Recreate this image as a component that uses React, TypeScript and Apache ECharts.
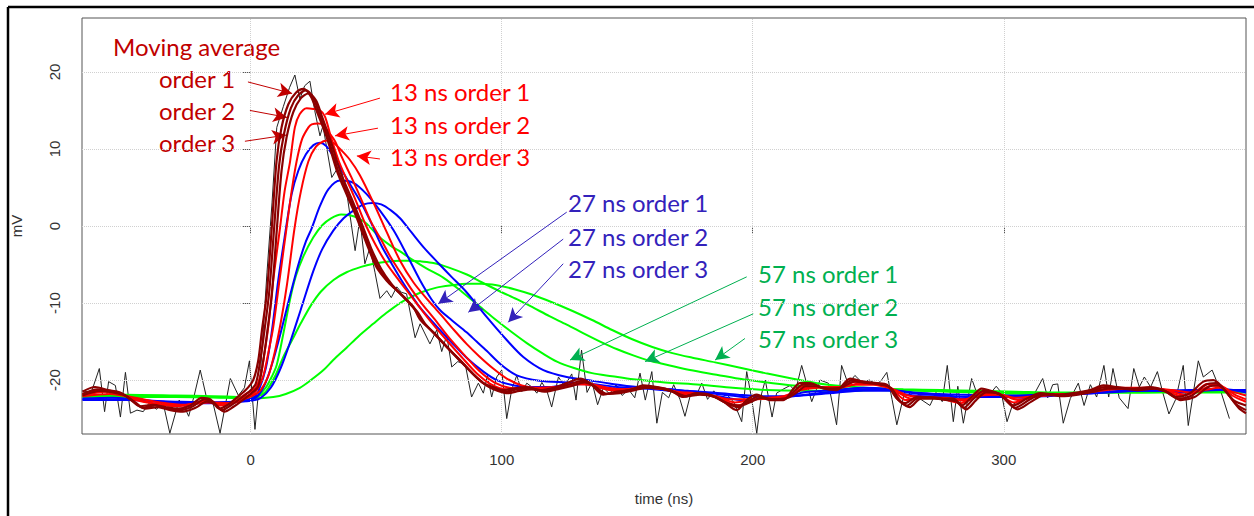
import React, { useEffect, useRef } from 'react';
import * as echarts from 'echarts';

// Axis ticks
const xTicks = [0, 100, 200, 300];
const yTicks = [-20, -10, 0, 10, 20];

// Raw detector signal (time ns, mV)
const rawTrace: [number, number][] = [
  [-67, -21.4], [-63.5, -21.6], [-60.3, -18.5], [-58.2, -24.1], [-56.6, -20.2], [-53.9, -20.7], [-51.9, -24.8], [-49.9, -19.0],
  [-47.9, -24.3], [-45.3, -23.9], [-42.8, -24.1], [-40.5, -23.0], [-37.5, -23.8], [-35, -22.8], [-32.2, -26.9], [-28.5, -22.6],
  [-26.5, -23.4], [-24.7, -24.7], [-22.5, -22.0], [-20.1, -18.7], [-17.5, -22.4], [-15, -23.0], [-12.2, -26.9], [-8.1, -19.8],
  [-4.9, -22.0], [-2.5, -21.0], [-0.5, -17.5], [1.7, -26.4], [4, -18.5], [6.5, -6], [8.5, 3], [10.4, 12.8], [13, 15.5],
  [15.5, 18], [17.6, 19.6], [19.6, 16.5], [21.5, 18.2], [23.6, 18.8], [25.5, 15], [27.6, 11.7], [28.8, 13.0], [32.3, 6.3],
  [35.6, 8.0], [38.5, 3.8], [41.6, -3.2], [43.5, 0.9], [45.5, -4.9], [47.5, -2.8], [49.5, -6.0], [51.5, -9.4], [54.2, -8.4],
  [56, -9.3], [58.2, -7.9], [60, -8.6], [62.1, -8.8], [65.5, -14.5], [67.5, -12.7], [71.4, -15.3], [74.1, -13.5], [76.1, -16.3],
  [78.1, -14.2], [80.1, -18.3], [82.5, -17.6], [85.5, -18.0], [88, -22.2], [90.7, -20.4], [92.7, -21.7], [94.3, -19.4],
  [96, -22.2], [98, -19.6], [100, -18.7], [102, -25.0], [104, -21.2], [106, -19.4], [108, -21.5], [110, -20.4], [112, -20.9],
  [114, -21.7], [116, -20.3], [118, -21.4], [119.9, -23.5], [122.6, -19.6], [125, -20.8], [127.9, -19.2], [129.6, -22.6],
  [131.8, -16.1], [134, -21.6], [136, -20.3], [138.2, -23.2], [140.5, -21.0], [143, -21.8], [145.5, -20.6], [148, -22.0],
  [150.5, -21.2], [153, -22.3], [155.1, -19.1], [157.2, -22.6], [159.8, -18.9], [161.8, -25.6], [164, -21.6], [166.5, -22.3],
  [168.5, -20.6], [171, -22.5], [173, -24.7], [175.5, -21.5], [177.5, -22.0], [179.7, -20.4], [182, -22.5], [184.5, -21.4],
  [187, -22.6], [189.5, -21.8], [192.5, -22.9], [195.6, -25.4], [197.6, -18.9], [199.5, -22.3], [201.6, -26.9], [203.5, -21.8],
  [205, -20.0], [207.7, -24.8], [209.5, -21.7], [212, -21.2], [214.9, -20.7], [217, -21.5], [219.5, -18.1], [223.5, -22.8],
  [226.8, -20.0], [230.1, -20.4], [233.4, -25.8], [235.4, -18.1], [238, -20.5], [240.7, -19.4], [243.5, -20.3], [246.5, -20.0],
  [249.5, -20.6], [251.5, -19.9], [253.4, -19.0], [255.5, -22.5], [257.4, -25.8], [260.7, -21.3], [263.5, -22.0], [266.5, -22.4],
  [270.6, -23.3], [273, -21.6], [275.5, -22.8], [277.5, -18.1], [279.9, -25.4], [281.7, -20.8], [283.9, -25.6], [287.2, -19.8],
  [289.5, -21.9], [292, -21.2], [294.5, -21.8], [297, -20.8], [299, -21.6], [301.3, -25.4], [303.5, -23.2], [306, -22.7],
  [309, -22.2], [312, -21.9], [315.5, -19.8], [317.5, -22.3], [319.5, -20.6], [321.5, -20.5], [323.7, -25.6], [326.5, -22.4],
  [329.7, -20.4], [332, -23.3], [334.5, -20.6], [337, -22.2], [339.9, -18.1], [341.8, -22.2], [343.5, -18.5], [346, -22.3],
  [349.5, -23.7], [351.8, -18.5], [354, -20.9], [356, -19.6], [358.5, -20.9], [361.2, -18.9], [363.5, -21.8], [365.8, -24.4],
  [368.5, -22.5], [371.5, -18.1], [373.5, -25.9], [377.5, -17.5], [379.5, -19.6], [383, -18.7], [386.5, -21.5], [389.9, -25.0],
];

// Moving averages, orders 1-3
const movingAvg1: [number, number][] = [
  [-67, -21.5], [-62, -20.9], [-57, -21.3], [-52, -21.6], [-48, -22.5], [-44, -23.4], [-39, -23.2], [-34, -23.5], [-29, -23.7],
  [-24, -23.3], [-19.5, -22.3], [-16, -22.5], [-12.5, -23.7], [-9, -23.2], [-6, -22.4], [-2, -21.3], [1, -20.0], [3, -17.5],
  [4.5, -13.5], [6.4, -8.8], [8.4, -0.2], [10.3, 8.4], [12.3, 12.8], [15, 15.8], [18, 17.3], [21, 17.8], [24, 16.8], [26.3, 14.9],
  [30.3, 11.5], [34.3, 7.2], [38.2, 4.1], [42.2, 1.1], [46.2, -2.3], [50.2, -5.4], [54.2, -7.1], [58, -8.3], [61, -9.2],
  [64.8, -10.5], [67.4, -12.1], [72.8, -13.8], [78.1, -15.7], [83.4, -17.4], [88.6, -19.2], [92.7, -20.4], [96.6, -20.9],
  [100.6, -21.3], [104.6, -21.1], [109.9, -20.9], [115.2, -21.3], [120.6, -21.0], [125.9, -20.4], [131.2, -19.8], [135.2, -20.4],
  [140.5, -21.9], [145.8, -21.5], [151.1, -21.3], [156.4, -20.7], [161.8, -20.9], [167.1, -21.3], [172.4, -22.2], [177.7, -21.7],
  [183, -21.9], [188.3, -22.8], [193.6, -23.9], [197.6, -22.6], [201.6, -21.9], [206.9, -22.6], [212.2, -22.6], [216, -21.2],
  [218.8, -20.4], [222.8, -20.4], [228.2, -21.1], [233.4, -21.3], [238.8, -19.8], [244.1, -20.2], [249.4, -20.4], [253.4, -20.6],
  [257.4, -22.4], [260.7, -23.0], [265.3, -22.2], [270.6, -22.2], [275.9, -22.4], [279.9, -22.4], [283.2, -23.3], [287.2, -22.2],
  [291.2, -21.1], [295.8, -21.5], [298.5, -21.9], [303.8, -23.3], [309.2, -22.4], [314.5, -21.7], [321.1, -21.9], [327.7, -21.7],
  [334.4, -21.3], [339.7, -20.7], [345, -20.9], [351.6, -21.1], [358.3, -20.9], [363.6, -21.3], [368.9, -22.2], [374.2, -21.7],
  [379.5, -20.2], [383.5, -20.0], [387.5, -21.1], [391.5, -22.6], [396.5, -23.3],
];
const movingAvg2: [number, number][] = [
  [-67, -21.8], [-61, -21.2], [-56, -21.4], [-51, -21.8], [-47, -22.7], [-43, -23.6], [-38, -23.3], [-33, -23.7], [-28, -23.9],
  [-23, -23.4], [-18.5, -22.5], [-15, -22.8], [-11.5, -23.9], [-8, -23.3], [-5, -22.6], [-1, -21.6], [2, -20.5], [4, -17],
  [5.5, -13.5], [7.4, -8.5], [9.4, 0], [11.3, 7.8], [13.3, 12], [16, 15.3], [19, 17], [22, 17.6], [25, 16.6], [27.3, 14.6],
  [31, 11.2], [35, 7.0], [39, 3.9], [43, 0.8], [47, -2.6], [51, -5.5], [55, -7.3], [59, -8.6], [62, -9.6], [65.5, -10.9],
  [68.5, -12.4], [73.5, -14.1], [79, -16], [84, -17.7], [89.5, -19.5], [93.5, -20.6], [97.5, -21.2], [101.5, -21.5], [106, -21.2],
  [111, -21.0], [116, -21.4], [121, -21.1], [126.5, -20.6], [132, -20.1], [136, -20.6], [141, -21.8], [146, -21.6], [152, -21.2],
  [157, -20.9], [162.5, -21.0], [168, -21.5], [173, -22.1], [178, -21.8], [184, -22.1], [189, -22.9], [194, -23.5], [198.5, -22.7],
  [202.5, -22.1], [207.5, -22.5], [213, -22.4], [217, -21.3], [220, -20.6], [224, -20.6], [229, -21.1], [234, -21.1], [239.5, -20.0],
  [245, -20.3], [250, -20.5], [254, -20.8], [258, -22.6], [261.5, -23.3], [266, -22.3], [271.5, -22.3], [276.5, -22.5],
  [280.5, -22.6], [284, -23.6], [288, -22.4], [292, -21.4], [296.5, -21.6], [299.5, -22.1], [304.5, -23.6], [310, -22.6],
  [315.5, -21.8], [322, -22.0], [328.5, -21.8], [335, -21.4], [340.5, -20.9], [346, -21.0], [352.5, -21.2], [359, -21.0],
  [364.5, -21.5], [369.5, -22.4], [375, -22.0], [380.5, -20.6], [384.5, -20.4], [388.5, -21.5], [392.5, -23.1], [396.5, -23.9],
];
const movingAvg3: [number, number][] = [
  [-67, -22.0], [-60, -21.4], [-55, -21.6], [-50, -22.0], [-46, -22.9], [-42, -23.7], [-37, -23.5], [-32, -23.9], [-27, -24.1],
  [-22, -23.6], [-17.5, -22.8], [-14, -23.2], [-10.5, -24.1], [-7, -23.5], [-4, -22.8], [0, -21.8], [3, -20.8], [5, -17.5],
  [6.5, -14], [8.4, -9], [10.4, -0.5], [12.3, 7.2], [14.3, 11.5], [17, 14.8], [20, 16.6], [23, 17.2], [26, 16.3], [28.3, 14.3],
  [32, 10.9], [36, 6.8], [40, 3.7], [44, 0.5], [48, -2.9], [52, -5.6], [56, -7.5], [60, -8.9], [63, -9.9], [66.5, -11.2],
  [69.5, -12.7], [74.5, -14.4], [80, -16.3], [85, -18], [90.5, -19.8], [94.5, -20.8], [98.5, -21.4], [102.5, -21.7], [107, -21.4],
  [112, -21.2], [117, -21.5], [122, -21.2], [127.5, -20.8], [133, -20.3], [137, -20.8], [142, -21.8], [147, -21.7], [153, -21.3],
  [158, -21.0], [163.5, -21.1], [169, -21.6], [174, -22.1], [179, -21.9], [185, -22.2], [190, -23.0], [195, -23.3], [199.5, -22.8],
  [203.5, -22.3], [208.5, -22.5], [214, -22.3], [218, -21.5], [221, -20.8], [225, -20.8], [230, -21.1], [235, -21.0], [240.5, -20.2],
  [246, -20.4], [251, -20.6], [255, -21.0], [259, -22.8], [262.5, -23.5], [267, -22.4], [272.5, -22.4], [277.5, -22.6],
  [281.5, -22.8], [285, -23.8], [289, -22.6], [293, -21.6], [297.5, -21.7], [300.5, -22.3], [305.5, -23.8], [311, -22.8],
  [316.5, -21.9], [323, -22.1], [329.5, -21.9], [336, -21.5], [341.5, -21.1], [347, -21.1], [353.5, -21.3], [360, -21.1],
  [365.5, -21.6], [370.5, -22.6], [376, -22.2], [381.5, -20.9], [385.5, -20.7], [389.5, -21.9], [393.5, -23.6], [396.5, -24.3],
];

// 13 ns shaping, orders 1-3
const shaping13o1: [number, number][] = [
  [-67, -21.8], [-60, -21.3], [-53, -21.7], [-46, -22.6], [-38, -23.1], [-30, -23.4], [-22, -23.0], [-17, -22.6], [-12, -23.3],
  [-6, -22.7], [-2, -21.8], [0, -21.5], [2, -21], [4, -19.3], [5.5, -16.5], [7, -13.1], [9, -7], [11.7, -0.2], [13.5, 4.5],
  [15.7, 8.4], [17.6, 12.8], [19.5, 14.5], [22.3, 15.3], [25, 15.2], [27.6, 15.0], [29.6, 14.2], [32, 11.5], [35, 8.5],
  [38, 6.2], [42, 3.2], [46, 0.0], [50, -2.6], [54, -4.8], [58, -6.6], [62, -8.3], [66, -10.0], [72, -12.5], [78, -14.8],
  [84, -17.0], [90, -19.1], [96, -20.6], [102, -21.2], [108, -21.0], [115, -21.2], [121, -21.0], [127, -20.6], [133, -20.2],
  [139, -21.0], [146, -21.4], [153, -21.1], [159, -20.9], [166, -21.2], [173, -21.9], [180, -21.8], [187, -22.4], [194, -23.3],
  [200, -22.5], [207, -22.4], [214, -22.2], [220, -20.8], [228, -20.9], [235, -21.0], [241, -20.2], [248, -20.4], [255, -21.0],
  [261, -22.6], [268, -22.3], [275, -22.4], [283, -23.0], [290, -21.6], [297, -21.7], [304, -22.9], [311, -22.2], [318, -21.8],
  [326, -21.8], [334, -21.4], [341, -20.9], [349, -21.0], [357, -21.0], [364, -21.3], [370, -22.0], [376, -21.6], [381, -20.5],
  [386, -20.6], [391, -22.0], [396.5, -22.8],
];
const shaping13o2: [number, number][] = [
  [-67, -22.0], [-58, -21.5], [-50, -22.0], [-42, -22.8], [-34, -23.2], [-26, -23.3], [-18, -22.8], [-12, -23.1], [-6, -22.9],
  [-1, -22.0], [1, -21.8], [3, -21], [5, -19.5], [7, -16.5], [9, -13.1], [11.5, -7], [14.3, -0.2], [16.3, 4.5], [18.3, 8.4],
  [20.5, 11.3], [23, 12.8], [24.3, 13.2], [27, 13.3], [28.9, 13.1], [31, 12.2], [33.6, 11.0], [36.5, 8.8], [40, 6.4], [44, 3.5],
  [48, 0.5], [52, -1.8], [56, -4.2], [60, -6.2], [64, -8.2], [68, -10.0], [73, -12.0], [79, -14.5], [85, -16.7], [91, -18.8],
  [97, -20.3], [103, -21.0], [109, -21.1], [116, -21.2], [123, -20.9], [130, -20.5], [137, -20.7], [144, -21.3], [151, -21.2],
  [158, -21.0], [165, -21.2], [172, -21.7], [179, -21.8], [186, -22.2], [193, -22.9], [200, -22.5], [207, -22.4], [214, -22.1],
  [221, -21.0], [229, -20.9], [236, -20.9], [243, -20.4], [250, -20.5], [257, -21.4], [263, -22.4], [270, -22.3], [277, -22.4],
  [285, -22.7], [292, -21.8], [299, -21.9], [306, -22.6], [313, -22.1], [321, -21.9], [329, -21.8], [337, -21.4], [344, -21.1],
  [352, -21.1], [360, -21.1], [366, -21.4], [372, -21.9], [378, -21.4], [383, -20.7], [388, -21.0], [392, -21.9], [396.5, -22.5],
];
const shaping13o3: [number, number][] = [
  [-67, -22.1], [-56, -21.8], [-46, -22.3], [-36, -22.9], [-26, -23.2], [-16, -22.9], [-8, -23.0], [-2, -22.4], [1, -22.0],
  [4, -21.3], [7, -19.5], [9.5, -16.5], [12, -12.5], [14.5, -7.5], [17.5, -0.2], [20, 4.5], [23, 8.4], [26, 10.3], [29, 11.0],
  [31, 11.1], [33, 10.8], [35.6, 10.0], [39.5, 8.6], [43.5, 6.6], [48.8, 3.1], [54.2, -0.8], [59.5, -4.5], [64.8, -7.3],
  [70, -9.4], [73, -10.5], [76, -11.6], [81, -13.5], [86, -15.3], [91, -16.9], [96.6, -18.5], [102, -19.8], [108, -20.7],
  [114, -21.0], [121, -20.9], [128, -20.6], [135, -20.5], [142, -21.0], [149, -21.2], [156, -21.0], [163, -21.1], [170, -21.5],
  [177, -21.7], [184, -22.0], [191, -22.5], [198, -22.5], [205, -22.3], [212, -22.1], [219, -21.3], [226, -21.0], [234, -20.9],
  [241, -20.6], [248, -20.6], [255, -21.1], [262, -22.0], [269, -22.2], [276, -22.3], [284, -22.5], [291, -22.0], [298, -21.9],
  [305, -22.3], [312, -22.1], [320, -21.9], [328, -21.8], [336, -21.5], [344, -21.2], [352, -21.1], [360, -21.1], [367, -21.3],
  [374, -21.6], [380, -21.3], [386, -21.0], [391, -21.5], [396.5, -22.0],
];

// 27 ns shaping, orders 1-3
const shaping27o1: [number, number][] = [
  [-67, -22.4], [-55, -22.3], [-45, -22.6], [-35, -22.9], [-25, -23.0], [-15, -22.9], [-8, -22.9], [-2, -22.6], [1, -22.3],
  [3, -21.5], [6, -18.5], [8.5, -13.5], [11, -7], [13.5, -1.5], [16.3, 4.1], [19, 7.2], [22, 9.3], [25, 10.5], [27.6, 10.8],
  [30, 10.4], [33, 9.0], [36, 7.4], [40, 5.2], [44, 3.0], [48, 0.4], [52, -2.5], [56, -4.8], [60, -7.0], [64, -9.0], [68, -10.8],
  [74, -13.0], [80, -15.1], [86, -17.1], [92.7, -18.9], [98, -20.0], [105, -20.7], [112, -20.9], [119, -20.9], [126, -20.6],
  [133, -20.5], [140, -20.9], [148, -21.2], [156, -21.1], [164, -21.3], [172, -21.6], [180, -21.8], [188, -22.2], [196, -22.6],
  [204, -22.4], [212, -22.3], [220, -21.6], [228, -21.4], [236, -21.2], [244, -21.0], [252, -21.1], [260, -21.8], [268, -22.1],
  [276, -22.2], [284, -22.4], [292, -22.1], [300, -22.1], [308, -22.3], [316, -22.0], [324, -21.9], [332, -21.7], [340, -21.5],
  [348, -21.4], [356, -21.3], [364, -21.4], [372, -21.6], [380, -21.2], [388, -21.2], [396.5, -21.6],
];
const shaping27o2: [number, number][] = [
  [-67, -22.5], [-50, -22.5], [-35, -22.8], [-20, -23.0], [-8, -22.9], [0, -22.6], [3, -22.0], [6, -20.3], [9, -17.4],
  [12, -13.8], [15.7, -9.0], [19, -5.0], [22, -2.0], [24.3, -0.3], [27.6, 2.6], [31, 4.8], [35.6, 5.9], [40.9, 5.6], [46, 4.2],
  [51.5, 2.0], [56.8, -0.5], [62, -3.6], [67.4, -7.0], [72, -9.5], [75.4, -10.9], [80, -12.2], [86, -13.8], [90, -15.0],
  [94, -16.2], [99.4, -17.9], [106, -19.4], [115, -20.1], [126, -20.3], [136, -20.5], [146, -20.9], [156, -21.0], [166, -21.2],
  [176, -21.5], [186, -21.8], [196, -22.2], [206, -22.4], [216, -22.1], [226, -21.7], [236, -21.4], [246, -21.2], [256, -21.3],
  [266, -21.8], [276, -22.0], [286, -22.2], [296, -22.2], [306, -22.2], [316, -22.1], [326, -21.9], [336, -21.7], [346, -21.5],
  [356, -21.4], [366, -21.4], [376, -21.4], [386, -21.3], [396.5, -21.4],
];
const shaping27o3: [number, number][] = [
  [-67, -22.6], [-50, -22.6], [-30, -22.8], [-15, -22.9], [-5, -22.8], [0, -22.7], [4, -22.3], [8, -21], [12, -18.4],
  [16, -14.8], [20, -10.8], [24.9, -5.9], [28.5, -3.0], [32.9, -0.6], [37, 1.0], [40.9, 2.0], [45, 2.8], [48.5, 3.0], [52, 2.8],
  [56, 2.0], [59.5, 1.0], [64, -0.8], [69, -2.8], [74.7, -4.8], [80, -6.6], [86, -8.6], [94, -11.8], [102, -14.8],
  [108.6, -17.0], [116.6, -18.7], [125.9, -19.6], [134, -20.0], [144, -20.5], [154, -20.9], [164, -21.1], [174, -21.4],
  [184, -21.6], [194, -21.9], [204, -22.1], [214, -22.1], [224, -21.9], [234, -21.6], [244, -21.4], [254, -21.4], [264, -21.6],
  [274, -21.8], [284, -21.9], [294, -22.0], [304, -22.0], [314, -21.9], [324, -21.8], [334, -21.7], [344, -21.5], [354, -21.4],
  [364, -21.4], [374, -21.3], [384, -21.3], [396.5, -21.3],
];

// 57 ns shaping, orders 1-3
const shaping57o1: [number, number][] = [
  [-67, -22.0], [-50, -21.9], [-30, -22.0], [-15, -22.1], [-5, -22.2], [0, -22.3], [3, -22.0], [6, -21.0], [8.5, -19.5],
  [10.4, -18.0], [13, -14], [15.7, -9.5], [18, -6.5], [20.9, -4.0], [24.9, -1.5], [28.5, 0.1], [32, 1.0], [36, 1.5],
  [39.5, 1.4], [43, 1.0], [46.2, 0.3], [51.5, -1.5], [56.8, -2.8], [59.5, -3.3], [65, -4.5], [70, -5.5], [76.7, -6.7],
  [84, -8.5], [91.4, -10.5], [97, -12.0], [103.3, -13.6], [110, -15.2], [116.6, -16.6], [122, -17.6], [128.5, -18.4],
  [136, -19.1], [144, -19.5], [152.4, -19.9], [165, -20.3], [179, -20.6], [192, -21.0], [205.5, -21.3], [220, -21.4],
  [235, -21.4], [250, -21.3], [265, -21.3], [280, -21.5], [295, -21.7], [310, -21.8], [325, -21.7], [340, -21.6], [355, -21.5],
  [370, -21.5], [385, -21.4], [396.5, -21.4],
];
const shaping57o2: [number, number][] = [
  [-67, -22.1], [-40, -22.1], [-15, -22.2], [0, -22.3], [3, -22.1], [6, -21.5], [10, -19.3], [13, -17.0], [16.5, -14.8],
  [20, -12.6], [24, -10.3], [28, -8.5], [33, -7.0], [38.2, -6.0], [44, -5.3], [49, -4.9], [55, -4.6], [59.5, -4.5], [64, -4.5],
  [68, -4.6], [72.8, -4.8], [79, -5.4], [86.1, -6.3], [92, -7.3], [99.4, -8.5], [106, -9.5], [112.6, -10.6], [119, -11.7],
  [125.9, -12.8], [133, -14.0], [139.2, -15.0], [146, -16.0], [152.4, -16.8], [159, -17.5], [165.7, -18.0], [175, -18.7],
  [185.6, -19.3], [196, -19.9], [208, -20.4], [220, -20.8], [235, -21.1], [250, -21.3], [265, -21.4], [280, -21.5],
  [295, -21.6], [310, -21.7], [325, -21.7], [340, -21.6], [355, -21.6], [370, -21.5], [385, -21.5], [396.5, -21.5],
];
const shaping57o3: [number, number][] = [
  [-67, -22.2], [-30, -22.2], [-10, -22.3], [0, -22.4], [9, -22.2], [14, -21.8], [19.6, -21.0], [24, -20.0], [29, -18.7],
  [32.9, -17.4], [38.2, -15.8], [43, -14.3], [48.8, -12.7], [54, -11.3], [59.5, -10.0], [64, -9.2], [68, -8.6], [74, -8.0],
  [80, -7.7], [86, -7.5], [92, -7.5], [98, -7.7], [105, -8.2], [112, -8.9], [120, -9.9], [128, -11.0], [136, -12.2],
  [144, -13.5], [152, -14.7], [160, -15.7], [168, -16.5], [176, -17.1], [185, -17.7], [195, -18.4], [205, -19.1],
  [218.8, -20.0], [230, -20.6], [245, -21.0], [260, -21.2], [275, -21.3], [290, -21.4], [305, -21.5], [320, -21.6],
  [335, -21.6], [350, -21.6], [365, -21.6], [380, -21.6], [396.5, -21.6],
];

// Annotation arrows: [tail time, tail mV, head time, head mV]
const arrowsMA = [
  [-1.1, 18.7, 16.5, 17.2],
  [-0.3, 15.0, 14.5, 14.1],
  [-2.3, 11.0, 14.1, 11.8],
];
const arrows13 = [
  [51.5, 16.6, 29.6, 14.5],
  [50.7, 12.7, 33.6, 11.7],
  [51.5, 8.7, 42.3, 9.1],
];
const arrows27 = [
  [125.9, 1.8, 74.7, -10.1],
  [124.5, -1.7, 86.7, -11.2],
  [124.5, -4.9, 102.6, -12.5],
];
const arrows57 = [
  [197.6, -6.6, 127.2, -17.4],
  [200.2, -11.4, 157.1, -17.6],
  [196.9, -14.6, 185.0, -17.4],
];

const COL_MA = '#8b0000';
const COL_13 = '#ff0000';
const COL_27 = '#0000ff';
const COL_57 = '#00ff00';
const TXT_MA = '#c00000';
const TXT_13 = '#ff0000';
const TXT_27 = '#3322bb';
const TXT_57 = '#00b050';

const LABEL_FONT = '24px Lato';

function curve(name: string, data: [number, number][], color: string, width: number, z: number) {
  return {
    name,
    type: 'line',
    data,
    showSymbol: false,
    symbol: 'none',
    smooth: 0.3,
    lineStyle: { color, width },
    itemStyle: { color },
    z,
    silent: true,
  };
}

function arrowSeries(name: string, arrows: number[][], color: string) {
  return {
    name,
    type: 'line',
    data: [],
    silent: true,
    z: 10,
    itemStyle: { color },
    markLine: {
      silent: true,
      symbol: ['none', 'arrow'],
      symbolSize: [11, 14],
      label: { show: false },
      lineStyle: { color, width: 1, type: 'solid' },
      data: arrows.map((a) => [{ coord: [a[0], a[1]] }, { coord: [a[2], a[3]] }]),
    },
  };
}

function label(text: string, x: number, y: number, fill: string) {
  return {
    type: 'text',
    x,
    y,
    silent: true,
    style: { text, fill, font: LABEL_FONT, verticalAlign: 'middle', align: 'left' },
  };
}

export default function App() {
  const ref = useRef<HTMLDivElement>(null);

  useEffect(() => {
    if (!ref.current) return;
    const chart = echarts.init(ref.current, null, { renderer: 'svg' });

    const gridLines = {
      name: 'grid',
      type: 'line',
      data: [],
      silent: true,
      z: 1,
      markLine: {
        silent: true,
        symbol: ['none', 'none'],
        label: { show: false },
        lineStyle: { color: '#d0d0d0', width: 1, type: 'dotted' },
        data: [...xTicks.map((v) => ({ xAxis: v })), ...yTicks.map((v) => ({ yAxis: v }))],
      },
    };

    chart.setOption({
      animation: false,
      backgroundColor: '#ffffff',
      grid: {
        left: 82,
        top: 18,
        right: 8,
        bottom: 82,
        show: true,
        borderColor: '#555555',
        borderWidth: 1,
        backgroundColor: 'transparent',
      },
      xAxis: {
        type: 'value',
        min: -67.2,
        max: 396.5,
        name: 'time (ns)',
        nameLocation: 'middle',
        nameGap: 57,
        nameTextStyle: { color: '#333333', fontSize: 15, fontFamily: 'Liberation Sans' },
        axisLine: { show: false },
        splitLine: { show: false },
        axisTick: { show: true, length: 8, customValues: xTicks, lineStyle: { color: '#555555' } },
        axisLabel: {
          customValues: xTicks,
          margin: 18,
          color: '#333333',
          fontSize: 15,
          fontFamily: 'Liberation Sans',
        },
      },
      yAxis: {
        type: 'value',
        min: -27,
        max: 27,
        name: 'mV',
        nameLocation: 'middle',
        nameGap: 58,
        nameTextStyle: { color: '#333333', fontSize: 15, fontFamily: 'Liberation Sans' },
        axisLine: { show: false },
        splitLine: { show: false },
        axisTick: { show: true, length: 8, customValues: yTicks, lineStyle: { color: '#555555' } },
        axisLabel: {
          customValues: yTicks,
          rotate: 90,
          margin: 20,
          color: '#333333',
          fontSize: 15,
          fontFamily: 'Liberation Sans',
        },
      },
      graphic: [
        { type: 'line', silent: true, shape: { x1: 8, y1: 7, x2: 1254, y2: 7 }, style: { stroke: '#000', lineWidth: 2.5 } },
        { type: 'line', silent: true, shape: { x1: 8, y1: 7, x2: 8, y2: 516 }, style: { stroke: '#000', lineWidth: 2.5 } },
        label('Moving average', 113, 46, TXT_MA),
        label('order 1', 159, 78, TXT_MA),
        label('order 2', 159, 110, TXT_MA),
        label('order 3', 159, 142, TXT_MA),
        label('13 ns order 1', 390, 91, TXT_13),
        label('13 ns order 2', 390, 124, TXT_13),
        label('13 ns order 3', 390, 156, TXT_13),
        label('27 ns order 1', 568, 202, TXT_27),
        label('27 ns order 2', 568, 236, TXT_27),
        label('27 ns order 3', 568, 268, TXT_27),
        label('57 ns order 1', 758, 273, TXT_57),
        label('57 ns order 2', 758, 306, TXT_57),
        label('57 ns order 3', 758, 338, TXT_57),
      ],
      series: [
        gridLines,
        {
          name: 'signal',
          type: 'line',
          data: rawTrace,
          showSymbol: false,
          symbol: 'none',
          lineStyle: { color: '#222222', width: 1 },
          z: 2,
          silent: true,
        },
        curve('57 ns order 3', shaping57o3, COL_57, 2, 3),
        curve('57 ns order 2', shaping57o2, COL_57, 2, 3),
        curve('57 ns order 1', shaping57o1, COL_57, 2, 3),
        curve('27 ns order 3', shaping27o3, COL_27, 2, 4),
        curve('27 ns order 2', shaping27o2, COL_27, 2, 4),
        curve('27 ns order 1', shaping27o1, COL_27, 2, 4),
        curve('13 ns order 3', shaping13o3, COL_13, 2, 5),
        curve('13 ns order 2', shaping13o2, COL_13, 2, 5),
        curve('13 ns order 1', shaping13o1, COL_13, 2, 5),
        curve('MA order 3', movingAvg3, COL_MA, 2.2, 6),
        curve('MA order 2', movingAvg2, COL_MA, 2.2, 6),
        curve('MA order 1', movingAvg1, COL_MA, 2.2, 6),
        arrowSeries('arrows MA', arrowsMA, TXT_MA),
        arrowSeries('arrows 13', arrows13, TXT_13),
        arrowSeries('arrows 27', arrows27, TXT_27),
        arrowSeries('arrows 57', arrows57, TXT_57),
      ],
    });

    return () => chart.dispose();
  }, []);

  return (
    <div
      ref={ref}
      style={{ position: 'fixed', left: 0, top: 0, width: 1254, height: 516, background: '#fff' }}
    />
  );
}
